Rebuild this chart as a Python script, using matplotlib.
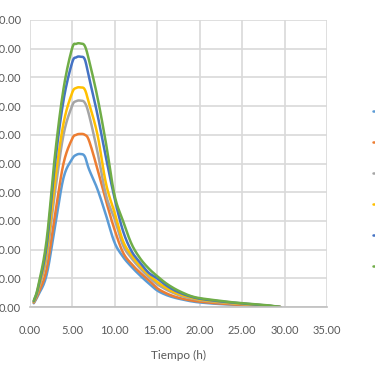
import numpy as np
import matplotlib
matplotlib.use("Agg")
import matplotlib.pyplot as plt

plt.rcParams['font.family'] = ['Lato', 'DejaVu Sans']

# tiempo (h)
t = [0.5, 1, 2, 3, 4, 5, 5.5, 6, 6.5, 7, 8, 9, 10, 11, 12, 13, 14, 15, 16, 17,
     18, 19, 20, 22, 24, 26, 28, 29.5]

# caudales por serie
s1 = [1.3, 4.0, 11, 28, 45, 51.5, 53, 53.3, 52.5, 48, 41, 32, 22.5, 17.5, 14, 11, 8.3, 5.8, 4.3, 3.3,
      2.6, 2.0, 1.6, 1.1, 0.8, 0.5, 0.25, 0]
s2 = [1.5, 4.5, 13, 32, 50, 58.5, 60, 60.3, 60, 58, 48, 37, 27, 19, 15, 12, 9.4, 6.6, 4.9, 3.7,
      2.9, 2.3, 1.9, 1.3, 0.9, 0.6, 0.3, 0]
s3 = [1.7, 5.5, 17, 40, 60, 70, 71.7, 71.9, 71.2, 67, 54, 39, 30.8, 21.5, 17, 13.5, 10.5, 8.0, 6.2, 4.8,
      3.7, 3.0, 2.4, 1.7, 1.2, 0.8, 0.4, 0]
s4 = [1.8, 6.0, 19, 44, 64, 74.5, 76.3, 76.5, 75.8, 71, 60, 43, 33, 23, 18, 14.3, 11.3, 8.8, 6.8, 5.2,
      4.1, 3.3, 2.6, 1.9, 1.3, 0.9, 0.45, 0]
s5 = [2.0, 6.5, 21, 50, 72, 85, 87, 87.2, 86.3, 80, 67, 52, 38, 26.5, 19.5, 15.5, 12, 10, 7.7, 5.9,
      4.6, 3.6, 2.9, 2.1, 1.5, 1.0, 0.5, 0]
s6 = [2.2, 7.0, 23, 53, 76, 90, 91.7, 91.8, 91, 86, 73, 57, 39, 30, 22, 17, 13.5, 10.8, 8.4, 6.5,
      5.0, 3.8, 3.1, 2.3, 1.6, 1.1, 0.6, 0]

series = [s1, s2, s3, s4, s5, s6]
names = ["Serie1", "Serie2", "Serie3", "Serie4", "Serie5", "Serie6"]
colors = ["#5B9BD5", "#ED7D31", "#A5A5A5", "#FFC000", "#4472C4", "#70AD47"]


def smooth(x, y, n=12):
    # catmull-rom path through the points, like excel's smoothed line
    x = np.asarray(x, float)
    y = np.asarray(y, float)
    px = np.concatenate([[2 * x[0] - x[1]], x, [2 * x[-1] - x[-2]]])
    py = np.concatenate([[2 * y[0] - y[1]], y, [2 * y[-1] - y[-2]]])
    u = np.linspace(0, 1, n, endpoint=False)[:, None]
    xs, ys = [], []
    for i in range(1, len(px) - 2):
        for p, out in ((px, xs), (py, ys)):
            p0, p1, p2, p3 = p[i - 1], p[i], p[i + 1], p[i + 2]
            out.append((0.5 * ((2 * p1) + (-p0 + p2) * u + (2 * p0 - 5 * p1 + 4 * p2 - p3) * u ** 2
                               + (-p0 + 3 * p1 - 3 * p2 + p3) * u ** 3)).ravel())
    return np.concatenate(xs + [[x[-1]]]), np.concatenate(ys + [[y[-1]]])


fig = plt.figure(figsize=(3.75, 3.75), dpi=100)
ax = fig.add_axes([29.5 / 375, 1 - 307 / 375, 297.5 / 375, 287 / 375])

for y, c, n in zip(series, colors, names):
    sx, sy = smooth(t, y)
    ax.plot(sx, sy, color=c, lw=1.8, label=n, solid_joinstyle="round", solid_capstyle="round")

ax.set_xlim(0, 35)
ax.set_ylim(0, 100)
ax.set_xticks(np.arange(0, 36, 5))
ax.set_yticks(np.arange(0, 101, 10))
ax.set_xticklabels(["%.2f" % v for v in np.arange(0, 36, 5)])
ax.set_yticklabels(["%.2f" % v for v in np.arange(0, 101, 10)])

ax.grid(True, color="#D9D9D9", lw=1.2)
ax.set_axisbelow(True)
for s in ["top", "right", "left"]:
    ax.spines[s].set_visible(False)
ax.spines["bottom"].set_color("#BFBFBF")
ax.spines["bottom"].set_linewidth(1.2)
ax.tick_params(length=0, labelsize=8, colors="#595959")
ax.tick_params(axis="x", pad=13)
ax.tick_params(axis="y", pad=6)

ax.set_xlabel("Tiempo (h)", fontsize=8.5, color="#595959", labelpad=10)

leg = fig.legend(loc="upper left", bbox_to_anchor=(373 / 375, 1 - 106 / 375),
                 frameon=False, borderpad=0, borderaxespad=0, handlelength=1.5,
                 labelspacing=1.8, fontsize=8)
for txt in leg.get_texts():
    txt.set_color("#595959")

fig.savefig("out.png", dpi=100)
